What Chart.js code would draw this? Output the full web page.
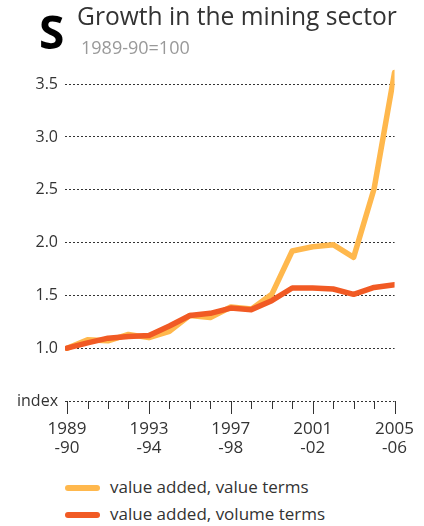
<!DOCTYPE html>
<html>
<head>
<meta charset="utf-8">
<script src="https://cdn.jsdelivr.net/npm/chart.js@4.4.0/dist/chart.umd.min.js"></script>
<style>
  html, body { margin: 0; padding: 0; background: #fff; }
  body { width: 424px; height: 526px; position: relative; overflow: hidden; font-family: "Open Sans", sans-serif; }
  #big { position: absolute; left: 39px; top: 8px; font-size: 46px; font-weight: 700; color: #000; line-height: 1; }
  #title { position: absolute; left: 77px; top: 1px; font-size: 24.6px; color: #333; line-height: 1.2; white-space: nowrap; }
  #sub { position: absolute; left: 81px; top: 35px; font-size: 18px; color: #999; white-space: nowrap; }
  #wrap { position: absolute; left: 0; top: 0; width: 424px; height: 470px; }
  .leg { position: absolute; left: 65px; font-size: 17px; color: #333; white-space: nowrap; }
  .sw { display: inline-block; width: 35px; height: 6px; border-radius: 3px; vertical-align: middle; margin-right: 10px; }
</style>
</head>
<body>
<div id="wrap"><canvas id="c" width="424" height="470"></canvas></div>
<div id="big">S</div>
<div id="title">Growth in the mining sector</div>
<div id="sub">1989-90=100</div>
<div class="leg" id="leg1" style="top:475px"><span class="sw" style="background:#FFB84D"></span>value added, value terms</div>
<div class="leg" id="leg2" style="top:502px"><span class="sw" style="background:#F15A24"></span>value added, volume terms</div>
<script>
const categories = ["1989-90","1990-91","1991-92","1992-93","1993-94","1994-95","1995-96","1996-97","1997-98","1998-99","1999-00","2000-01","2001-02","2002-03","2003-04","2004-05","2005-06"];
const valueTerms = [1.00, 1.08, 1.07, 1.13, 1.10, 1.16, 1.31, 1.29, 1.39, 1.37, 1.51, 1.92, 1.96, 1.98, 1.86, 2.51, 3.61];
const volumeTerms = [1.00, 1.05, 1.095, 1.11, 1.12, 1.21, 1.31, 1.33, 1.38, 1.365, 1.45, 1.57, 1.57, 1.56, 1.51, 1.575, 1.60];
const yTicks = [0.5, 1.0, 1.5, 2.0, 2.5, 3.0, 3.5];
const yTickLabels = ["index", "1.0", "1.5", "2.0", "2.5", "3.0", "3.5"];
const xLabelEvery = 4;

function xLabel(i) {
  const c = categories[i];
  if (!c || i % xLabelEvery !== 0) return '';
  const [a, b] = c.split('-');
  return [a, '-' + b];
}

const tickMarks = {
  id: 'tickMarks',
  afterDraw(chart) {
    const ctx = chart.ctx, xs = chart.scales.x, ys = chart.scales.y;
    const y0 = ys.getPixelForValue(0.5);
    ctx.save();
    ctx.strokeStyle = '#333';
    ctx.lineWidth = 1;
    categories.forEach((c, i) => {
      const x = Math.round(xs.getPixelForValue(i)) + 0.5;
      const len = i % xLabelEvery === 0 ? 13 : 8;
      ctx.beginPath();
      ctx.moveTo(x, y0);
      ctx.lineTo(x, y0 + len);
      ctx.stroke();
    });
    ctx.restore();
  }
};

new Chart(document.getElementById('c'), {
  type: 'line',
  data: {
    datasets: [
      { label: 'value added, volume terms', data: volumeTerms.map((v, i) => ({x: i, y: v})), borderColor: '#F15A24', borderWidth: 5.5, pointRadius: 0, borderCapStyle: 'round', borderJoinStyle: 'round', tension: 0 },
      { label: 'value added, value terms', data: valueTerms.map((v, i) => ({x: i, y: v})), borderColor: '#FFB84D', borderWidth: 5.5, pointRadius: 0, borderCapStyle: 'round', borderJoinStyle: 'round', tension: 0 }
    ]
  },
  options: {
    responsive: false,
    animation: false,
    events: [],
    layout: { padding: { top: 63, right: 26, left: 0, bottom: 0 } },
    plugins: { legend: { display: false }, tooltip: { enabled: false } },
    scales: {
      x: {
        type: 'linear', min: -0.1, max: 16,
        afterBuildTicks(s) { s.ticks = categories.map((c, i) => ({value: i})); },
        afterFit(s) { s.height = 69; },
        grid: { display: false },
        border: { display: false },
        ticks: { autoSkip: false, maxRotation: 0, padding: 10, color: '#333', font: { family: 'Open Sans', size: 17, lineHeight: 1.15 }, callback: (v) => xLabel(v) }
      },
      y: {
        type: 'linear', min: 0.5, max: 3.7,
        afterBuildTicks(s) { s.ticks = yTicks.map(v => ({value: v})); },
        afterFit(s) { s.width = 65; },
        grid: { color: '#333', lineWidth: 1, drawTicks: false, tickLength: 0 },
        border: { display: false, dash: [2, 2] },
        ticks: { padding: 7, color: '#333', font: { family: 'Open Sans', size: 16 }, callback: (v) => yTickLabels[yTicks.indexOf(v)] ?? '' }
      }
    }
  },
  plugins: [tickMarks]
});
</script>
</body>
</html>
